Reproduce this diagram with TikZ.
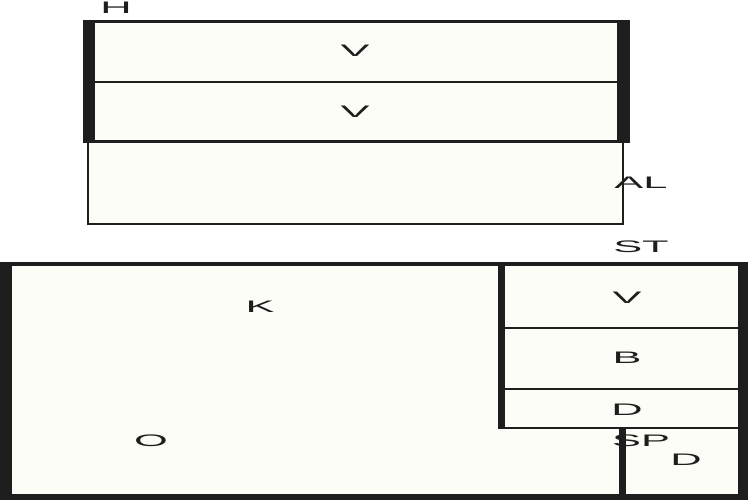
\documentclass[tikz,border=0pt]{standalone}
\usepackage{fontspec}
\setmainfont{Liberation Sans}
\definecolor{floor}{HTML}{FDFDF7}
\definecolor{wall}{HTML}{1E1E1E}
\tikzset{
  lbl/.style={font=\fontsize{9.5}{9.5}\selectfont, xscale=2.6, inner sep=0pt, text=wall},
  thin/.style={draw=wall, line width=1.2pt}
}
\begin{document}
\begin{tikzpicture}[x=0.02cm, y=-0.02cm]
    \useasboundingbox (0,0) rectangle (750,500);

    % upper unit
    \fill[floor] (88,143) rectangle (623,224);
    \draw[thin] (88,143) -- (88,224) -- (623,224) -- (623,143); %AL
    \draw[fill=floor, draw=wall, line width=1.7pt] (85,21.5) rectangle (628,141.5);
    \fill[wall] (83,20) rectangle (95,143);
    \fill[wall] (617,20) rectangle (629,143);
    \draw[thin] (95,82) -- (617,82);

    % lower unit
    \draw[fill=floor, draw=wall, line width=2.3pt] (2,264) rectangle (746,497);
    \draw[draw=wall, line width=3.4pt] (0,497) -- (748,497);
    \fill[wall] (0,262) rectangle (12,500);
    \fill[wall] (738,262) rectangle (748,500);
    \fill[wall] (498,264) rectangle (505,428); %ST
    \draw[thin] (505,328) -- (738,328);
    \draw[thin] (505,389) -- (738,389);
    \draw[thin] (498,428) -- (738,428);
    \fill[wall] (619,428) rectangle (626,497); %SP

    \node[lbl] (h) at (116,8) {H};
    \node[lbl] (v1) at (355,51) {V};
    \node[lbl] (v2) at (355,112) {V};
    \node[lbl] (al) at (641,183) {AL};
    \node[lbl] (st) at (641,247) {ST};
    \node[lbl] (k) at (260,307) {K};
    \node[lbl] (v3) at (627,298) {V};
    \node[lbl] (b) at (627,358) {B};
    \node[lbl] (d1) at (627,410) {D};
    \node[lbl] (o) at (151,441) {O};
    \node[lbl] (sp) at (641,441) {SP};
    \node[lbl] (d2) at (686,460) {D};

\end{tikzpicture}
\end{document}
